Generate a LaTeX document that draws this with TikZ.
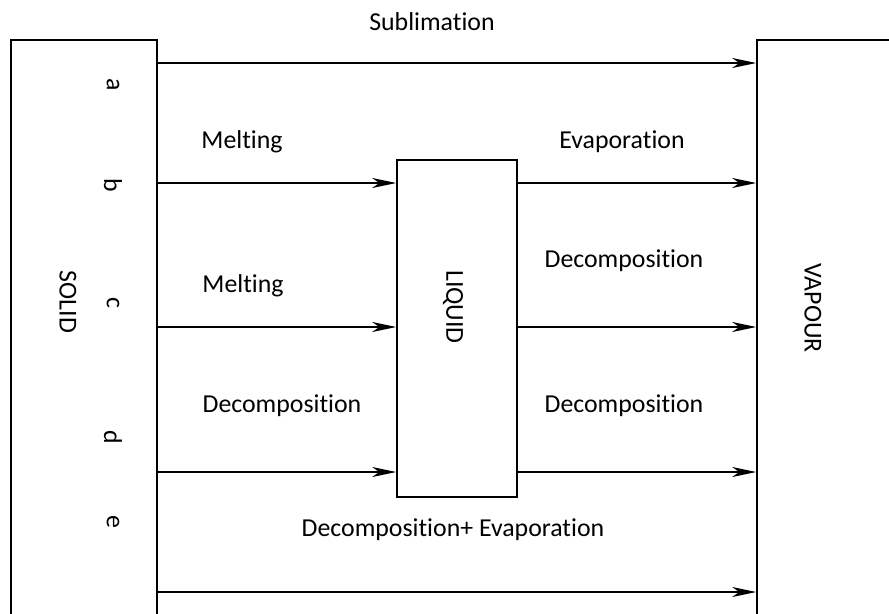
\documentclass[tikz,border=0pt]{standalone}
\usepackage{fontspec}
\setmainfont{Carlito}[Ligatures=NoCommon]
\usetikzlibrary{arrows.meta}

\begin{document}
\begin{tikzpicture}[x=0.02cm, y=-0.02cm, line width=0.9pt,
        phase/.style = {draw, rectangle, inner sep=0pt},
        lbl/.style = {font=\fontsize{14.7}{17}\selectfont, inner sep=0pt},
        flow/.style = {-{Stealth[length=4.8mm, width=2mm, inset=1.4mm]}, line width=1.1pt}]
        \path[use as bounding box, clip] (0,0) rectangle (889,613);

        \node[phase, minimum width=2.92cm, minimum height=12.4cm] (solid) at (84,350) {};
        \node[phase, minimum width=3.26cm, minimum height=12.4cm] (vapour) at (838.5,350) {};
        \node[phase, minimum width=2.4cm, minimum height=6.74cm] (liquid) at (457,328.5) {};

        \node[lbl, rotate=-90] (solidtxt) at (68,302) {SOLID};
        \node[lbl, rotate=-90] (liquidtxt) at (453,307) {LIQUID};
        \node[lbl, rotate=-90] (vapourtxt) at (813,308) {VAPOUR};

        \foreach \n/\y in {a/63,b/183,c/327,d/472,e/592}{
            \coordinate (r\n) at (0,\y);
        }
        \foreach \n/\y in {a/85,b/185,c/303,d/437,e/522}{
            \node[lbl, rotate=-90] (l\n) at (113,\y) {\n};
        }

        \foreach \n in {a,e}{
            \draw[flow] (solid.east |- r\n) -- (vapour.west |- r\n);
        }
        \foreach \n in {b,c,d}{
            \draw[flow] (solid.east |- r\n) -- (liquid.west |- r\n);
            \draw[flow] (liquid.east |- r\n) -- (vapour.west |- r\n);
        }

        \node[lbl] (subl) at (432,22) {Sublimation};
        \node[lbl] (melt1) at (242,142) {Melting};
        \node[lbl] (evap) at (622,142) {Evaporation};
        \node[lbl] (melt2) at (243,286) {Melting};
        \node[lbl] (decomp1) at (624,261) {Decomposition};
        \node[lbl] (decomp2) at (282,406) {Decomposition};
        \node[lbl] (decomp3) at (624,406) {Decomposition};
        \node[lbl] (decompevap) at (453,530) {Decomposition+ Evaporation};
    \end{tikzpicture}
\end{document}
